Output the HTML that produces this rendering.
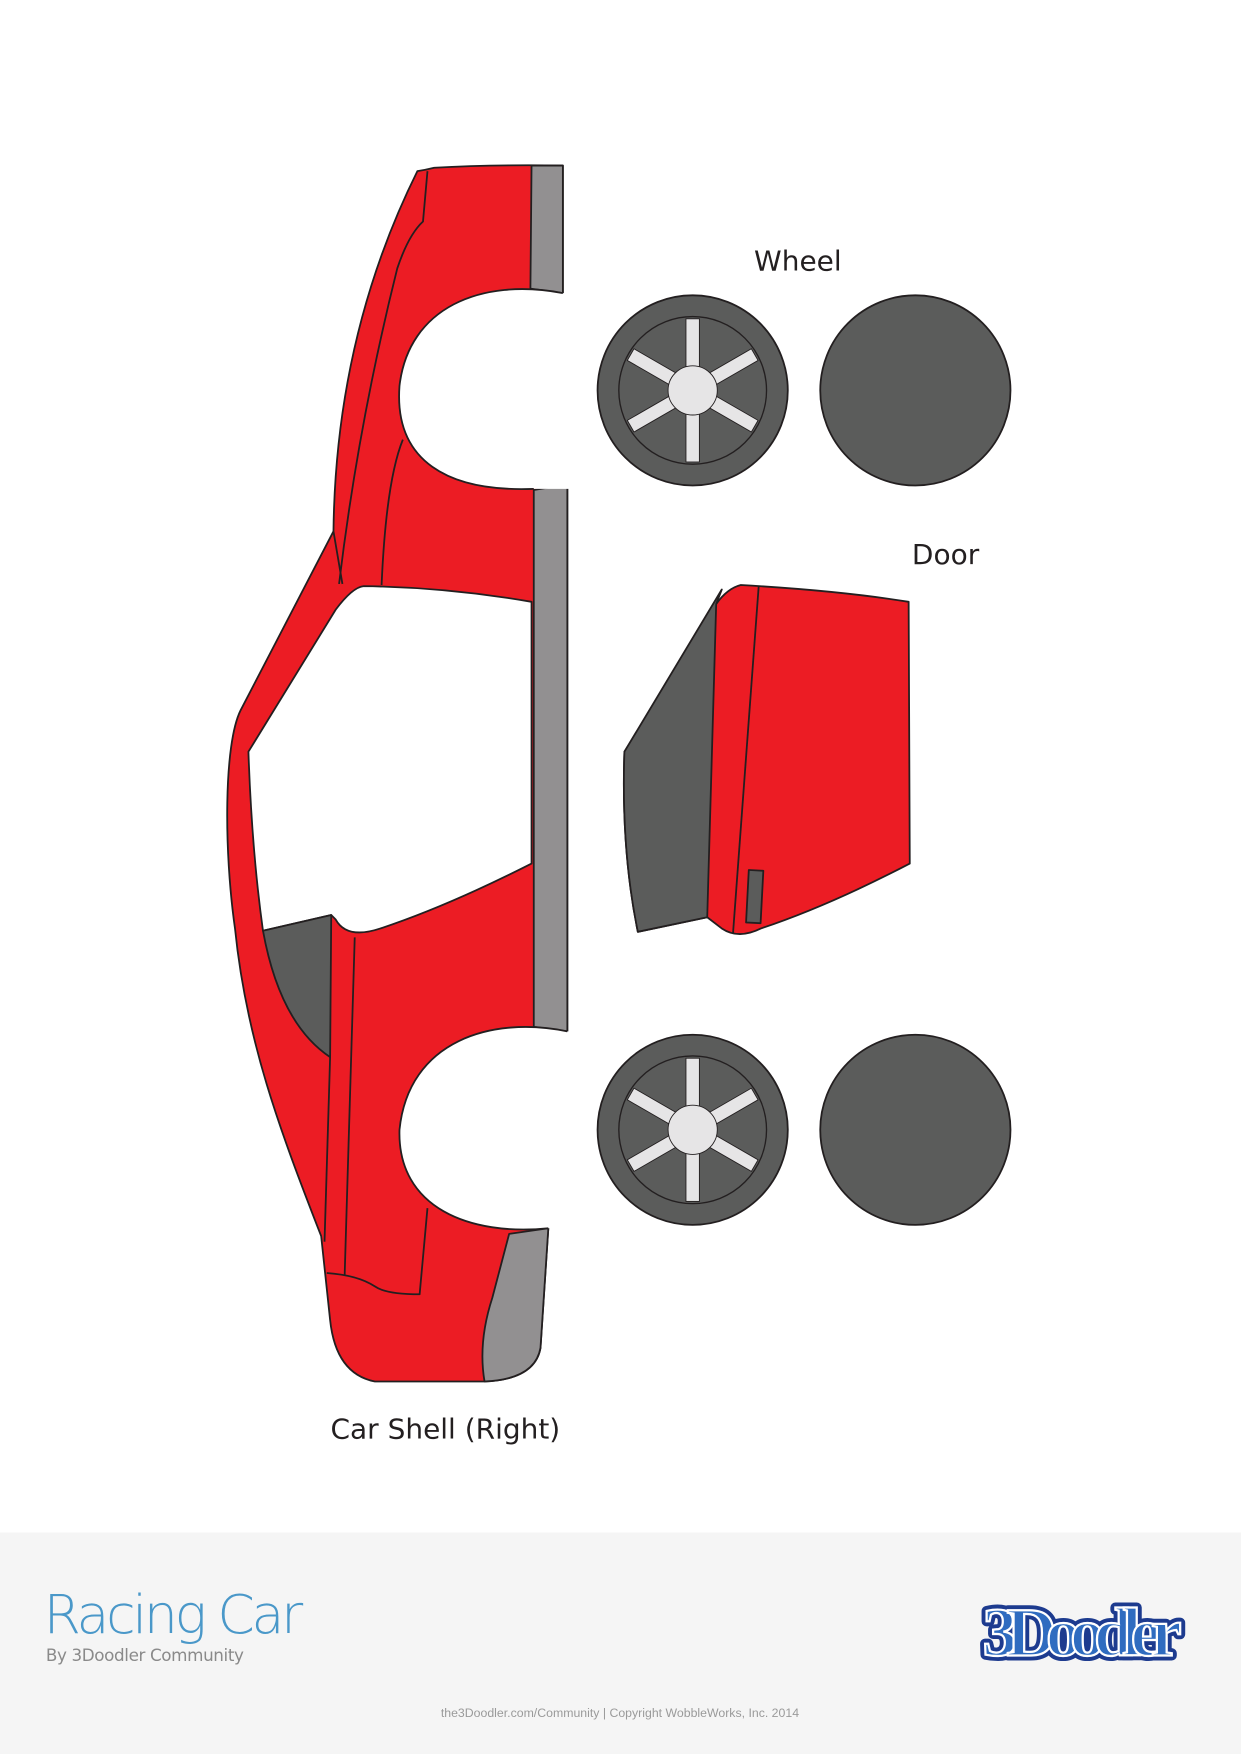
<!DOCTYPE html>
<html><head><meta charset="utf-8"><style>
html,body{margin:0;padding:0;background:#fff;}
svg{display:block;}
</style></head><body>
<svg width="1241" height="1754" viewBox="0 0 1109 1568" preserveAspectRatio="none" xmlns="http://www.w3.org/2000/svg">
<rect width="1109" height="1568" fill="#fff"/>
<g stroke="#231f20" stroke-width="1.6" stroke-linejoin="round">
<!-- body -->
<path fill="#ec1c24" d="M373,153 Q380,152 388,150 Q440,147 503,148 L503,262 L507,433 L507,922 L490,1098 L483,1205 Q478,1233 433,1235 L335,1235 Q300,1228 295,1180 L287,1105 C250,1010 220,930 210,830 C200,760 200,665 215,635 L298,475 Q300,300 373,153 Z"/>
<path fill="#929091" d="M475,148 L503,148 L503,262 L474,258 Z"/>
<path fill="#929091" d="M477,438 L507,433 L507,922 L477,918 Z"/>
<path fill="#929091" d="M455,1103 L490,1098 L483,1205 Q478,1233 433,1235 Q427,1200 440,1160 Z"/>
<path fill="#fff" d="M503,262 C430,248 365,275 357,345 C352,412 400,440 477,437 L520,437 L520,262 Z" stroke="none"/>
<path fill="none" d="M503,262 C430,248 365,275 357,345 C352,412 400,440 477,437"/>
<path fill="#fff" d="M507,922 C440,908 365,930 357,1010 C355,1080 420,1105 490,1098 L520,1098 L520,922 Z" stroke="none"/>
<path fill="none" d="M507,922 C440,908 365,930 357,1010 C355,1080 420,1105 490,1098"/>
<path fill="#fff" d="M325,524 Q400,525 475,538 L475,772 Q400,810 340,830 Q310,840 300,822 L296,818 L235,832 Q225,760 222,672 L300,545 Q315,525 325,524Z"/>
<path fill="#5b5c5b" d="M235,832 L296,818 L295,945 Q250,915 235,832Z"/>
<path fill="none" d="M382,153 L378,198 Q365,210 355,240 Q320,380 303,522"/>
<path fill="none" d="M298,475 L306,522"/>
<path fill="none" d="M360,393 Q345,430 341,523"/>
<path fill="none" d="M317,838 L308,1140"/>
<path fill="none" d="M295,945 L290,1110"/>
<path fill="none" d="M292,1138 Q320,1140 335,1150 Q345,1157 375,1157 L382,1080"/>
<!-- door -->
<path fill="#ec1c24" d="M662,523 Q750,528 812,538 L813,772 Q740,810 680,830 Q660,840 645,830 L632,820 L570,833 Q555,760 558,672 L640,540 Q650,526 662,523Z"/>
<path fill="#5b5c5b" d="M645,527 L558,672 Q555,760 570,833 L632,820 L640,540Z"/>
<path fill="none" d="M678,524 L655,835"/>
<rect x="668" y="778" width="13" height="47" fill="#5b5c5b" transform="rotate(3 674 800)"/>
<!-- wheels -->
<circle cx="818" cy="349" r="85" fill="#5b5c5b"/>
<circle cx="818" cy="1010" r="85" fill="#5b5c5b"/>
<circle cx="619" cy="349" r="85" fill="#5b5c5b"/>
<circle cx="619" cy="349" r="66" fill="#5b5c5b" stroke-width="1.2"/>
<circle cx="619" cy="1010" r="85" fill="#5b5c5b"/>
<circle cx="619" cy="1010" r="66" fill="#5b5c5b" stroke-width="1.2"/>
</g>
<g fill="#e6e5e6" stroke="#231f20" stroke-width="0.8">
<g transform="translate(619,349)">
<rect x="-6" y="-64" width="12" height="128"/>
<rect x="-6" y="-64" width="12" height="128" transform="rotate(60)"/>
<rect x="-6" y="-64" width="12" height="128" transform="rotate(-60)"/>
<circle r="22"/>
</g>
<g transform="translate(619,1010)">
<rect x="-6" y="-64" width="12" height="128"/>
<rect x="-6" y="-64" width="12" height="128" transform="rotate(60)"/>
<rect x="-6" y="-64" width="12" height="128" transform="rotate(-60)"/>
<circle r="22"/>
</g>
</g>
<g font-family="'DejaVu Sans','Liberation Sans',sans-serif" fill="#231f20" font-size="25" text-anchor="middle">
<text x="713" y="242">Wheel</text>
<text x="845" y="504">Door</text>
<text x="398" y="1286">Car Shell (Right)</text>
</g>
<rect x="0" y="1370" width="1109" height="198" fill="#f5f5f5"/>
<text x="39" y="1460" font-family="'DejaVu Sans','Liberation Sans',sans-serif" font-weight="200" font-size="48" fill="#4a98c9" textLength="232">Racing Car</text>
<text x="41" y="1485" font-family="'DejaVu Sans','Liberation Sans',sans-serif" font-size="15" fill="#8a8a8a" textLength="177">By 3Doodler Community</text>
<text x="554" y="1535" text-anchor="middle" font-family="'Liberation Sans',sans-serif" font-size="11" fill="#9a9a9a">the3Doodler.com/Community | Copyright WobbleWorks, Inc. 2014</text>
<g font-family="'Liberation Serif',serif" font-size="62" font-weight="bold">
<text x="878" y="1480" fill="#1d3b8f" stroke="#1d3b8f" stroke-width="9" stroke-linejoin="round" textLength="178">3Doodler</text>
<text x="878" y="1480" fill="#2f6cc0" stroke="#fff" stroke-width="2" textLength="178">3Doodler</text>
</g>
</svg>
</body></html>
